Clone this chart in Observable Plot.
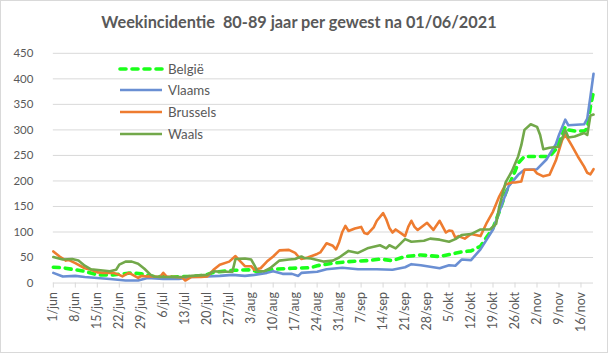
<!DOCTYPE html>
<html><head><meta charset="utf-8">
<script src="https://cdn.jsdelivr.net/npm/d3@7"></script>
<script src="https://cdn.jsdelivr.net/npm/@observablehq/plot@0.6"></script>
<style>
body{margin:0;background:#fff}
#chart{position:relative;width:608px;height:353px;box-sizing:border-box;border:1px solid #d9d9d9;overflow:hidden;font-family:Lato,sans-serif;background:#fff}
#title{position:absolute;left:0;width:596px;top:11px;text-align:center;font-weight:bold;font-size:16.3px;color:#595959;white-space:pre}
#chart svg{position:absolute;left:-1px;top:-1px}
.leg{position:absolute;left:117px;height:20px;display:flex;align-items:center;font-size:13.3px;color:#595959}
.leg svg{position:static !important;margin-right:4px}
</style></head><body>
<div id="chart"><div id="title">Weekincidentie  80-89 jaar per gewest na 01/06/2021</div></div>
<script>
// day offsets from 1 June 2021, value
const startDate = [2021, 5, 1];
const monthNames = ["jan","feb","mrt","apr","mei","jun","jul","aug","sep","okt","nov","dec"];
const yTicks = [0,50,100,150,200,250,300,350,400,450];
const xTickDays = [0,7,14,21,28,35,42,49,56,63,70,77,84,91,98,105,112,119,126,133,140,147,154,161,168];

const belgie = [[0,31],[3,30],[6,27],[10,23],[14,16],[19,16],[22,18],[25,20],[28,18],[32,13],[38,12],[44,13],[48,15],[51,21],[57,25],[63,26],[66,20],[70,27],[76,29],[82,30],[84,34],[89,39],[94,42],[100,44],[104,47],[108,44],[112,52],[117,55],[123,52],[127,57],[130,61],[133,63],[136,72],[138,90],[140,108],[142,140],[144,176],[146,205],[147,219],[148,235],[150,248],[158,248],[160,262],[162,290],[163,306],[164,300],[166,298],[169,298],[170,302],[171,345],[172,375]];
const vlaams = [[0,20],[3,13],[7,14],[10,12],[14,10],[18,8],[23,5],[27,5],[30,10],[35,8],[40,8],[44,12],[49,13],[53,14],[57,16],[61,14],[64,16],[68,20],[70,23],[73,18],[76,18],[78,14],[79,20],[84,22],[87,27],[92,30],[97,27],[103,27],[108,26],[112,31],[114,37],[117,35],[121,31],[123,29],[126,35],[128,34],[130,46],[133,45],[136,66],[140,105],[143,157],[145,190],[148,212],[150,222],[154,223],[157,242],[160,272],[161,290],[163,320],[164,309],[169,311],[170,322],[171,365],[172,410]];
const brussels = [[0,62],[2,52],[4,44],[5,45],[7,39],[10,29],[12,26],[14,21],[16,20],[19,20],[21,16],[22,13],[24,20],[25,17],[27,10],[28,14],[30,13],[32,13],[34,12],[35,20],[36,13],[39,12],[41,11],[42,5],[44,12],[47,12],[49,13],[51,26],[53,36],[56,42],[58,53],[59,46],[61,33],[63,33],[64,26],[66,29],[68,42],[70,52],[72,64],[75,65],[77,59],[78,52],[79,47],[81,50],[84,57],[85,60],[87,78],[89,73],[90,66],[91,80],[92,100],[93,112],[94,102],[96,107],[98,110],[99,98],[100,96],[102,109],[103,122],[105,137],[106,125],[107,108],[108,99],[109,105],[112,92],[113,110],[114,122],[115,110],[116,104],[119,118],[121,104],[123,122],[125,99],[126,103],[127,102],[128,89],[129,92],[131,87],[133,96],[136,92],[138,118],[140,140],[142,170],[144,193],[146,197],[147,197],[149,199],[150,222],[153,222],[154,215],[156,209],[158,212],[160,240],[162,280],[163,291],[165,270],[167,248],[169,228],[170,216],[171,213],[172,223]];
const waals = [[0,51],[3,46],[6,47],[8,44],[10,34],[12,27],[15,25],[18,23],[20,26],[21,36],[23,42],[25,42],[27,38],[29,28],[31,16],[32,13],[35,12],[38,12],[41,12],[44,14],[49,16],[51,23],[54,22],[57,22],[58,47],[61,48],[63,46],[64,35],[65,23],[67,23],[69,29],[72,44],[75,46],[77,47],[79,52],[80,49],[82,48],[86,42],[89,44],[91,50],[94,63],[97,59],[100,68],[104,74],[106,68],[107,74],[109,68],[112,86],[114,81],[118,83],[120,87],[123,85],[126,81],[128,86],[130,94],[133,96],[136,105],[139,105],[141,116],[142,150],[144,197],[146,219],[148,248],[149,270],[150,300],[152,311],[154,306],[155,290],[156,262],[158,265],[161,267],[163,300],[164,285],[166,287],[169,294],[170,290],[171,328],[172,330]];

const seriesNames = ["België","Vlaams","Brussels","Waals"];
const seriesColors = ["#1aff1a","#6a8fd3","#ee7c30","#72a84a"];
const seriesValues = [belgie, vlaams, brussels, waals];

const day = d => new Date(Date.UTC(startDate[0], startDate[1], startDate[2] + d));
const fmt = d => `${d.getUTCDate()}/${monthNames[d.getUTCMonth()]}`;

const styles = [
  {strokeWidth:3.6, strokeDasharray:"6 6", strokeLinecap:"round"},
  {strokeWidth:2.6}, {strokeWidth:2.6}, {strokeWidth:2.6}
];

const lineMarks = seriesValues.map((vals, i) =>
  Plot.line(vals.map(([d, v]) => ({date: day(d), value: v})), {
    x: "date", y: "value", stroke: seriesColors[i], strokeLinejoin: "round", ...styles[i]
  })
);

const chart = Plot.plot({
  width: 608, height: 353,
  marginLeft: 53, marginRight: 13, marginTop: 53, marginBottom: 69.5,
  x: {type: "utc", domain: [day(0), day(172.3)], label: null},
  y: {domain: [0, 450], label: null},
  style: {fontFamily: "Lato, sans-serif", color: "#595959", background: "transparent", overflow: "visible"},
  marks: [
    Plot.gridY(yTicks, {stroke: "#d9d9d9", strokeOpacity: 1, strokeWidth: 1}),
    Plot.axisY(yTicks, {tickSize: 0, tickPadding: 20, fontSize: 11.5, tickFormat: d => d, label: null}),
    Plot.axisX(xTickDays.map(day), {tickFormat: fmt, tickRotate: -90, tickSize: 5, tickPadding: 4, fontSize: 12.5, stroke: "#d9d9d9", label: null}),
    ...lineMarks
  ]
});
const root = document.getElementById("chart");
root.appendChild(chart);

// legend
seriesNames.forEach((name, i) => {
  const row = document.createElement("div");
  row.className = "leg";
  row.style.top = (57.5 + i * 21.8) + "px";
  const s = styles[i];
  row.innerHTML = `<svg width="46" height="8"><line x1="2" x2="44" y1="4" y2="4" stroke="${seriesColors[i]}" stroke-width="${s.strokeWidth}" ${s.strokeDasharray ? `stroke-dasharray="${s.strokeDasharray}" stroke-linecap="round"` : ""}/></svg><span>${name}</span>`;
  root.appendChild(row);
});
</script>
</body></html>
